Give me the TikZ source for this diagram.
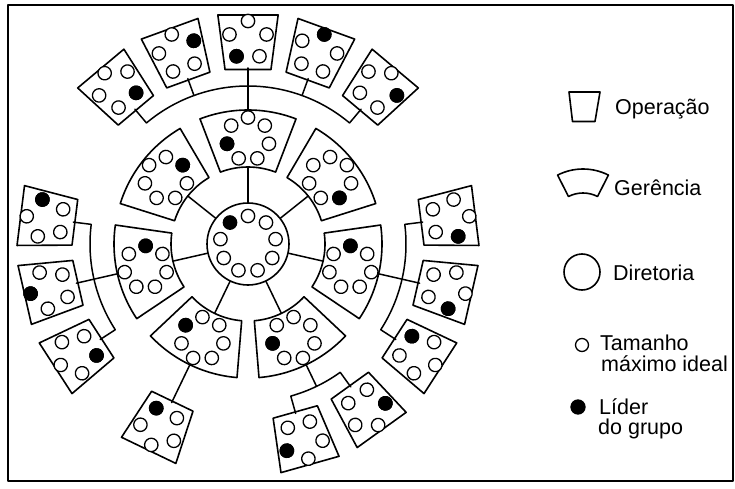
\documentclass[tikz,border=0pt]{standalone}
\usepackage{fontspec}
\setmainfont{Liberation Sans}

% unidade de operacao: nome, angulo, lider (0..4)
\newcommand{\operacao}[3]{%
  \begin{scope}[shift={(248,244)},rotate=#2-90]
    \draw[caixa] (82.5:176) -- (97.5:176) -- (97.5:231) -- (82.5:231) -- cycle;
    \coordinate (#1) at (0,176);
    \coordinate (#1-a) at (0,158);
    \begin{scope}[shift={(0,203.5)}]
      \draw[bola] (90:19.5) circle (6.7pt);
      \draw[bola] (18:19.5) circle (6.7pt);
      \draw[bola] (-54:19.5) circle (6.7pt);
      \draw[bola] (-126:19.5) circle (6.7pt);
      \draw[bola] (162:19.5) circle (6.7pt);
      \filldraw[bola,fill=black] ({90-72*#3}:19.5) circle (6.7pt);
    \end{scope}
  \end{scope}}

% gerencia: nome, angulo, lider (0..6)
\newcommand{\gerencia}[3]{%
  \begin{scope}[shift={(248,244)},rotate=#2-90]
    \draw[caixa] (69:77) arc[start angle=69,end angle=111,radius=77pt]
      -- (111:134) arc[start angle=111,end angle=69,radius=134pt] -- cycle;
    \coordinate (#1-in) at (0,77);
    \coordinate (#1-out) at (0,134);
    \coordinate (#1-a) at (0,158);
    \begin{scope}[shift={(0,105)}]
      \draw[bola] (90:21.5) circle (6.7pt);
      \draw[bola] (38.57:21.5) circle (6.7pt);
      \draw[bola] (-12.86:21.5) circle (6.7pt);
      \draw[bola] (-64.29:21.5) circle (6.7pt);
      \draw[bola] (-115.71:21.5) circle (6.7pt);
      \draw[bola] (-167.14:21.5) circle (6.7pt);
      \draw[bola] (141.43:21.5) circle (6.7pt);
      \filldraw[bola,fill=black] ({90-51.43*#3}:21.5) circle (6.7pt);
    \end{scope}
  \end{scope}}

\begin{document}
\begin{tikzpicture}[line cap=round,line join=round,x=1pt,y=1pt,
    caixa/.style={line width=1.6pt},
    bola/.style={line width=1.3pt,fill=white},
    liga/.style={line width=1.5pt},
    rotulo/.style={anchor=base west,inner sep=0pt,font=\fontsize{21.5}{24}\selectfont}]
		\useasboundingbox (0,0) rectangle (735,488);
		\draw[line width=1.3pt] (8,7) rectangle (733,483);
		% diretoria
		\node[draw,circle,minimum size=82pt,inner sep=0pt,line width=1.6pt] (dir) at (248,244) {};
		\begin{scope}[shift={(248,244)}]
		\draw[bola] (90:28) circle (6.7pt);
		\draw[bola] (50:28) circle (6.7pt);
		\draw[bola] (10:28) circle (6.7pt);
		\draw[bola] (-30:28) circle (6.7pt);
		\draw[bola] (-70:28) circle (6.7pt);
		\draw[bola] (-110:28) circle (6.7pt);
		\draw[bola] (-150:28) circle (6.7pt);
		\draw[bola] (170:28) circle (6.7pt);
		\filldraw[bola,fill=black] (130:28) circle (6.7pt);
		\end{scope}
		% gerencias
		\gerencia{gtopo}{90}{5}
		\gerencia{gsd}{38.57}{2}
		\gerencia{gdir}{-12.86}{5}
		\gerencia{gid}{-64.29}{2}
		\gerencia{gie}{-115.71}{2}
		\gerencia{gesq}{192.86}{2}
		\gerencia{gse}{141.43}{2}
		\draw[liga] (dir) -- (gtopo-in);
		\draw[liga] (dir) -- (gsd-in);
		\draw[liga] (dir) -- (gdir-in);
		\draw[liga] (dir) -- (gid-in);
		\draw[liga] (dir) -- (gie-in);
		\draw[liga] (dir) -- (gesq-in);
		\draw[liga] (dir) -- (gse-in);
		% operacoes do topo
		\operacao{op1}{50}{1}
		\operacao{op2}{70}{0}
		\operacao{op3}{90}{3}
		\operacao{op4}{110}{1}
		\operacao{op5}{130}{2}
		\draw[liga] (gtopo-out) -- (op3);
		\draw[liga] (op1) -- (op1-a) arc[start angle=50,end angle=130,radius=158pt] -- (op5);
		\draw[liga] (op2-a) -- (op2);
		\draw[liga] (op4-a) -- (op4);
		% operacoes da esquerda
		\operacao{ope1}{172.86}{1}
		\operacao{ope2}{192.86}{0}
		\operacao{ope3}{212.86}{3}
		\draw[liga] (gesq-out) -- (ope2);
		\draw[liga] (ope1) -- (ope1-a) arc[start angle=172.86,end angle=212.86,radius=158pt] -- (ope3);
		% operacoes da direita
		\operacao{opd1}{7.14}{1}
		\operacao{opd2}{-12.86}{1}
		\operacao{opd3}{-32.86}{3}
		\draw[liga] (gdir-out) -- (opd2);
		\draw[liga] (opd1) -- (opd1-a) arc[start angle=7.14,end angle=-32.86,radius=158pt] -- (opd3);
		% operacoes de baixo
		\operacao{opb1}{-74.29}{1}
		\operacao{opb2}{-54.29}{4}
		\operacao{opc}{-115.71}{2}
		\draw[liga] (gid-out) -- (gid-a);
		\draw[liga] (opb1) -- (opb1-a) arc[start angle=-74.29,end angle=-54.29,radius=158pt] -- (opb2);
		\draw[liga] (gie-out) -- (opc);
		% legenda
		\draw[caixa] (569,396) -- (600,396) -- (595,366.5) -- (572.5,366.5) -- cycle;
		\node[rotulo] (l-op) at (615,373) {Operação};
		\begin{scope}[shift={(583,263)}]
		\draw[caixa] (63:32) -- (63:56) arc[start angle=63,end angle=117,radius=56pt] -- (117:32) arc[start angle=117,end angle=63,radius=32pt] -- cycle;
		\end{scope}
		\node[rotulo] (l-ger) at (614,292.3) {Gerência};
		\draw[caixa] (582,216) circle (18pt);
		\node[rotulo] (l-dir) at (613,207.3) {Diretoria};
		\draw[bola] (582,143) circle (6.5pt);
		\node[rotulo] (l-tam) at (600,137.3) {Tamanho};
		\node[rotulo] (l-max) at (601,116.3) {máximo ideal};
		\filldraw[bola,fill=black] (578,81) circle (7pt);
		\node[rotulo] (l-lid) at (599,73.7) {Líder};
		\node[rotulo] (l-gru) at (598,53.7) {do grupo};
\end{tikzpicture}
\end{document}
